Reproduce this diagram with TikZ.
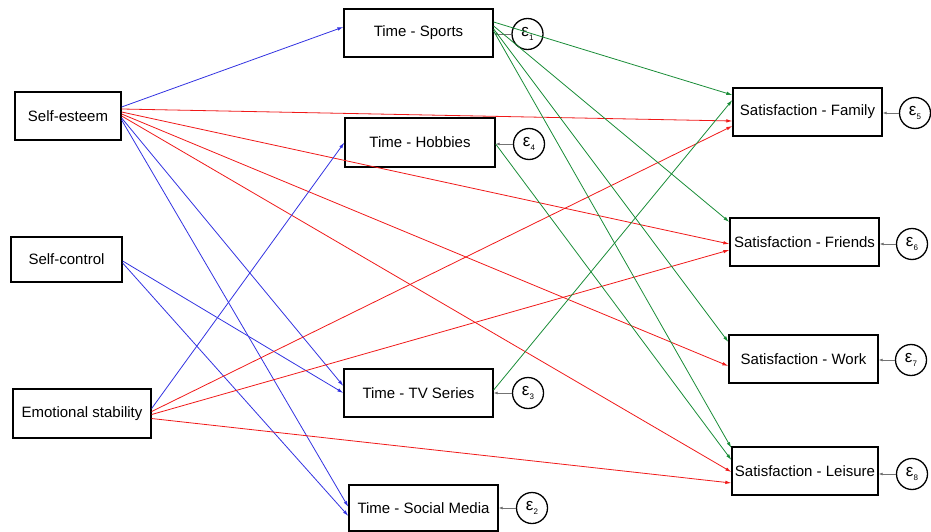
\documentclass[tikz,border=0pt]{standalone}
\usepackage{fontspec}
\setmainfont{Liberation Sans}
\usetikzlibrary{arrows.meta}
\definecolor{eblue}{RGB}{50,50,225}
\definecolor{ered}{RGB}{240,25,25}
\definecolor{egreen}{RGB}{25,140,55}
\newcommand\epsn[1]{ε\raisebox{-4pt}{\fontsize{8}{8}\selectfont #1}}
\begin{document}
\begin{tikzpicture}[x=1pt,y=-1pt,
  box/.style={draw,line width=1.3pt,inner sep=0pt,minimum height=48pt,font=\fontsize{15}{18}\selectfont},
  err/.style={draw,circle,line width=1.3pt,inner sep=0pt,minimum size=31pt,font=\fontsize{17}{18}\selectfont},
  bl/.style={eblue,line width=0.8pt,-{Latex[length=6pt,width=3.5pt]}},
  rd/.style={ered,line width=0.8pt,-{Latex[length=6pt,width=3.5pt]}},
  gr/.style={egreen,line width=0.8pt,-{Latex[length=6pt,width=3.5pt]}},
  ea/.style={black!55,line width=0.7pt,-{Latex[length=4pt,width=3pt]}}]
\useasboundingbox (0,0) rectangle (931,532);
% left
\node[box,minimum width=106pt] (se) at (68,116) {Self-esteem};
\node[box,minimum width=111pt,minimum height=45pt] (sc) at (66.5,259.5) {Self-control};
\node[box,minimum width=138pt,minimum height=49pt] (es) at (82,413.5) {Emotional stability};
% middle
\node[box,minimum width=149pt] (sp) at (418.5,33) {Time - Sports};
\node[box,minimum width=150pt,minimum height=49pt] (hb) at (420,142.5) {Time - Hobbies};
\node[box,minimum width=149pt] (tv) at (418.5,393) {Time - TV Series};
\node[box,minimum width=149pt,minimum height=46pt] (sm) at (423.5,508) {Time - Social Media};
% right
\node[box,minimum width=149pt] (fa) at (807.5,112) {Satisfaction - Family};
\node[box,minimum width=149pt] (fr) at (804.5,242) {Satisfaction - Friends};
\node[box,minimum width=149pt] (wo) at (803.5,359) {Satisfaction - Work};
\node[box,minimum width=146pt] (le) at (805,471) {Satisfaction - Leisure};
% errors
\node[err] (e1) at (527.5,34) {\epsn{1}};
\node[err] (e4) at (529,144) {\epsn{4}};
\node[err] (e3) at (528,393) {\epsn{3}};
\node[err] (e2) at (532,508) {\epsn{2}};
\node[err] (e5) at (915,113) {\epsn{5}};
\node[err] (e6) at (912,244) {\epsn{6}};
\node[err] (e7) at (911,360) {\epsn{7}};
\node[err] (e8) at (912,474) {\epsn{8}};
\foreach \e/\n in {e1/sp,e4/hb,e3/tv,e2/sm,e5/fa,e6/fr,e7/wo,e8/le}
  \draw[ea] (\e.west) -- (\e.west -| \n.east);
% Self-esteem
\draw[bl] ([yshift=9pt]se.east) -- ([yshift=6pt]sp.west);
\draw[rd] ([yshift=7pt]se.east) -- ([yshift=-9pt]fa.west);
\draw[rd] ([yshift=4pt]se.east) -- ([yshift=-2pt]fr.west);
\draw[rd] ([yshift=2pt]se.east) -- ([yshift=-7pt]wo.west);
\draw[rd] ([yshift=0pt]se.east) -- ([yshift=-1pt]le.west);
\draw[bl] ([yshift=-2pt]se.east) -- ([yshift=7pt]tv.west);
\draw[bl] ([yshift=-4pt]se.east) -- ([yshift=1pt]sm.west);
% Self-control
\draw[bl] ([yshift=-1.5pt]sc.east) -- ([yshift=0pt]tv.west);
\draw[bl] ([yshift=-3.5pt]sc.east) -- ([yshift=-8pt]sm.west);
% Emotional stability
\draw[bl] ([yshift=5pt]es.east) -- ([yshift=0pt]hb.west);
\draw[rd] ([yshift=2pt]es.east) -- ([yshift=-14pt]fa.west);
\draw[rd] ([yshift=-1pt]es.east) -- ([yshift=-8pt]fr.west);
\draw[rd] ([yshift=-5pt]es.east) -- ([yshift=-12pt]le.west);
% Sports
\draw[gr] ([yshift=11pt]sp.east) -- ([yshift=17pt]fa.west);
\draw[gr] ([yshift=7pt]sp.east) -- ([yshift=20pt]fr.west);
\draw[gr] ([yshift=4pt]sp.east) -- ([yshift=17pt]wo.west);
\draw[gr] ([yshift=2pt]sp.east) -- ([yshift=23pt]le.west);
% Hobbies, TV
\draw[gr] ([yshift=-1.5pt]hb.east) -- ([yshift=11pt]le.west);
\draw[gr] ([yshift=3pt]tv.east) -- ([yshift=12pt]fa.west);
\end{tikzpicture}
\end{document}
